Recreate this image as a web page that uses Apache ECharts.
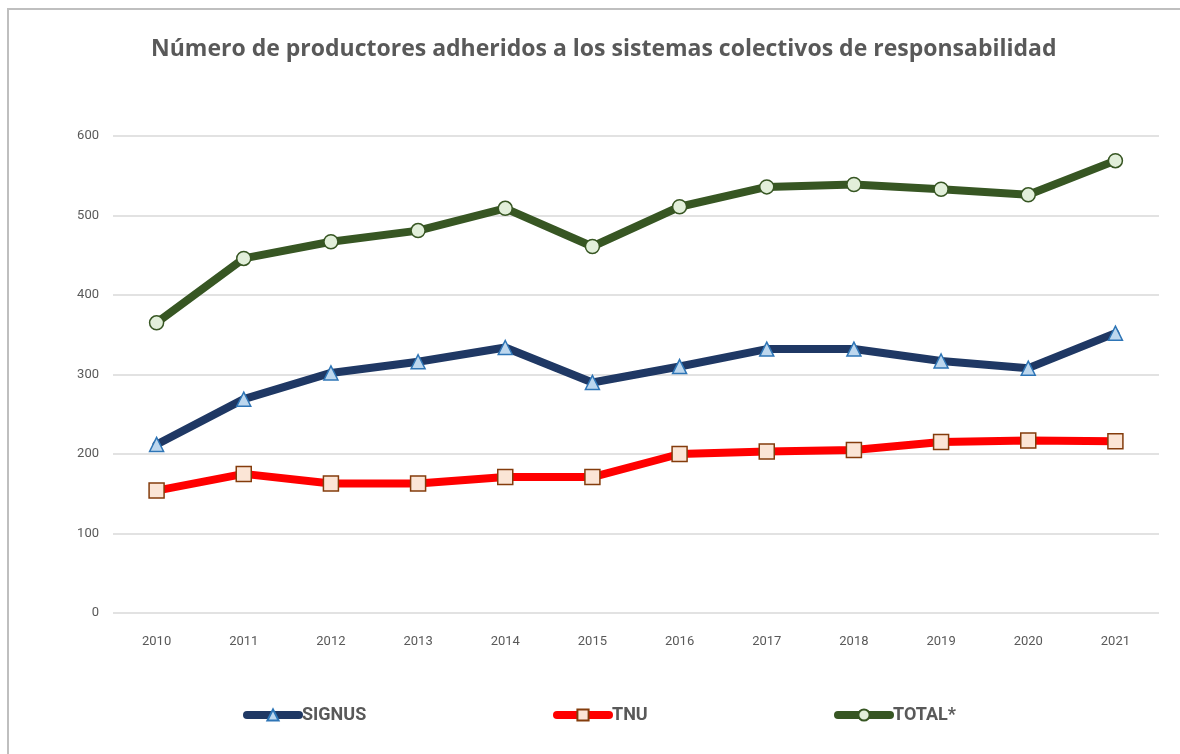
<!DOCTYPE html>
<html>
<head>
<meta charset="utf-8">
<script src="https://cdn.jsdelivr.net/npm/echarts@6/dist/echarts.min.js"></script>
<style>
  html, body { margin: 0; padding: 0; background: #fff; }
  #chart { width: 1180px; height: 754px; }
</style>
</head>
<body>
<div id="chart"></div>
<script>
var years = ["2010", "2011", "2012", "2013", "2014", "2015", "2016", "2017", "2018", "2019", "2020", "2021"];
var signus = [212, 269, 302, 316, 334, 290, 310, 332, 332, 317, 308, 352];
var tnu = [154, 175, 163, 163, 171, 171, 200, 203, 205, 215, 217, 216];
var total = [365, 446, 467, 481, 509, 461, 511, 536, 539, 533, 526, 569];
var yTicks = [0, 100, 200, 300, 400, 500, 600];

var chart = echarts.init(document.getElementById("chart"));

// one legend per item so each can sit where the original has it
function legendAt(name, left) {
    return {
        data: [name], left: left, top: 701,
        itemWidth: 52, itemHeight: 14, itemGap: 0,
        lineStyle: { width: 8, cap: "round" },
        textStyle: { color: "#595959", fontSize: 18, fontWeight: "bold", fontFamily: "Roboto", padding: [0, 0, 0, -2] }
    };
}

function lineSeries(name, data, lineColor, symbol, fill, border, size) {
    return {
        name: name, type: "line", data: data,
        symbol: symbol, symbolSize: size,
        lineStyle: { color: lineColor, width: 8, cap: "round", join: "round" },
        itemStyle: { color: fill, borderColor: border, borderWidth: 1.5 },
        emphasis: { disabled: true },
        z: 3
    };
}

var option = {
    animation: false,
    title: {
        text: "Número de productores adheridos a los sistemas colectivos de responsabilidad",
        left: 146, top: 33,
        textStyle: { color: "#595959", fontSize: 23, fontWeight: "bold", fontFamily: "Open Sans" }
    },
    graphic: [{
        type: "rect", shape: { x: 8, y: 9, width: 1300, height: 900 },
        style: { fill: null, stroke: "#bfbfbf", lineWidth: 2 }, silent: true
    }],
    legend: [
        legendAt("SIGNUS", 238),
        legendAt("TNU", 548),
        legendAt("TOTAL*", 829)
    ],
    grid: { left: 113, right: 21, top: 136, height: 477 },
    xAxis: {
        type: "category", data: years, boundaryGap: true,
        axisLine: { show: false }, axisTick: { show: false },
        axisLabel: { color: "#595959", fontSize: 13, fontFamily: "Roboto", margin: 22 }
    },
    yAxis: {
        type: "value", min: yTicks[0], max: yTicks[yTicks.length - 1], interval: 100,
        axisLine: { show: false }, axisTick: { show: false },
        axisLabel: { color: "#595959", fontSize: 13, fontFamily: "Roboto", margin: 14 },
        splitLine: { lineStyle: { color: "#d9d9d9", width: 1.5 } }
    },
    series: [
        lineSeries("SIGNUS", signus, "#1f3864", "triangle", "#bdd7ee", "#2e75b6", 14),
        lineSeries("TNU", tnu, "#ff0000", "rect", "#fbe5d6", "#843c0c", 15),
        lineSeries("TOTAL*", total, "#375623", "circle", "#e2efda", "#375623", 14)
    ]
};

chart.setOption(option);
</script>
</body>
</html>
